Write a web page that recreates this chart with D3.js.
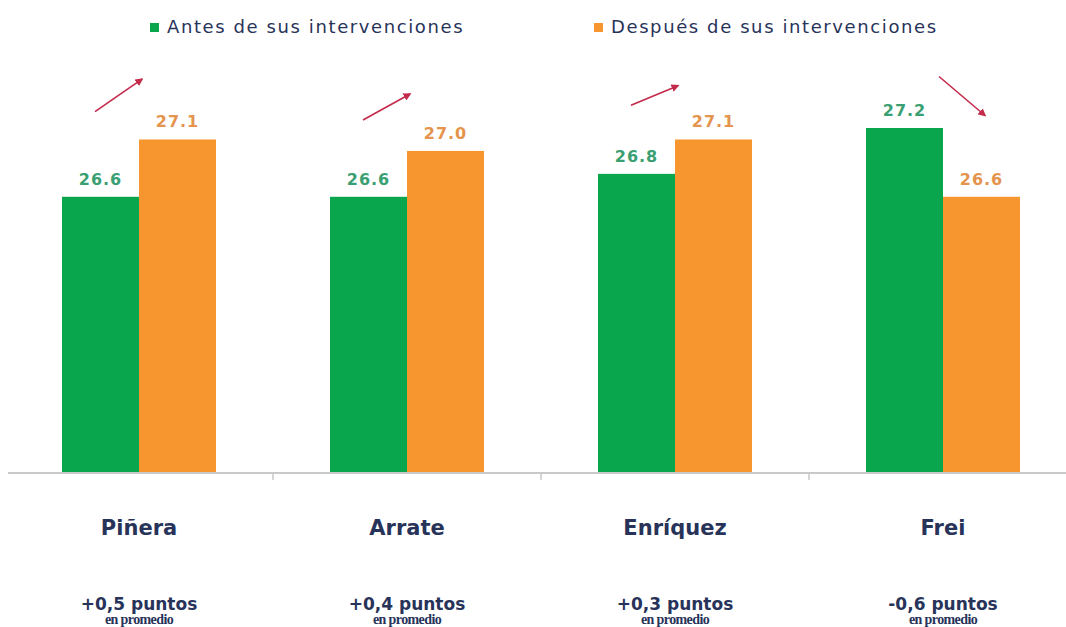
<!DOCTYPE html>
<html>
<head>
<meta charset="utf-8">
<script src="https://cdn.jsdelivr.net/npm/d3@7"></script>
<style>
  body { margin: 0; background: #fff; }
  svg { display: block; font-family: "DejaVu Sans", Verdana, sans-serif; }
</style>
</head>
<body>
<svg id="chart" width="1066" height="627"></svg>
<script>
var candidates = ['Piñera', 'Arrate', 'Enríquez', 'Frei'];
var seriesNames = ['Antes de sus intervenciones', 'Después de sus intervenciones'];
var antes = [26.6, 26.6, 26.8, 27.2];
var despues = [27.1, 27.0, 27.1, 26.6];
var diffLabels = ['+0,5 puntos', '+0,4 puntos', '+0,3 puntos', '-0,6 puntos'];

var colors = ['#0aa64e', '#f7962f'];
var labelColors = ['#3a9f72', '#e4944c'];
var navy = '#28335a';

var svg = d3.select('#chart');
var baseY = 472;

var x = d3.scaleBand().domain(candidates).range([5, 1077]).paddingInner(0).paddingOuter(0);
var xs = d3.scaleBand().domain([0, 1]).range([57, x.bandwidth() - 57]);
var y = d3.scaleLinear().domain([24.2, 27.2]).range([baseY, 128]);

var rows = candidates.map(function(c, i){
    return {name: c, vals: [antes[i], despues[i]], diff: diffLabels[i]};
});

// axis line with tick marks between categories
svg.append('line')
    .attr('x1', 8).attr('x2', 1066)
    .attr('y1', baseY + 1).attr('y2', baseY + 1)
    .style('stroke', '#c9c9c9').style('stroke-width', 2);

svg.selectAll('line.tick')
    .data(candidates.slice(1))
    .enter().append('line')
    .attr('class', 'tick')
    .attr('x1', function(d){ return x(d); }).attr('x2', function(d){ return x(d); })
    .attr('y1', baseY + 1).attr('y2', baseY + 8)
    .style('stroke', '#c9c9c9').style('stroke-width', 1.5);

var g = svg.selectAll('g.cat')
    .data(rows)
    .enter().append('g')
    .attr('class', 'cat')
    .attr('transform', function(d){ return 'translate(' + x(d.name) + ',0)'; });

g.selectAll('rect')
    .data(function(d){ return d.vals; })
    .enter().append('rect')
    .attr('x', function(v, i){ return xs(i); })
    .attr('y', function(v){ return y(v); })
    .attr('width', xs.bandwidth())
    .attr('height', function(v){ return baseY - y(v); })
    .style('fill', function(v, i){ return colors[i]; });

g.selectAll('text.val')
    .data(function(d){ return d.vals; })
    .enter().append('text')
    .attr('class', 'val')
    .attr('x', function(v, i){ return xs(i) + xs.bandwidth() / 2; })
    .attr('y', function(v){ return y(v) - 12; })
    .attr('text-anchor', 'middle')
    .style('font-size', '16px')
    .style('font-weight', 'bold')
    .style('letter-spacing', '1px')
    .style('fill', function(v, i){ return labelColors[i]; })
    .text(function(v){ return v.toFixed(1); });

// trend arrows
svg.append('defs').append('marker')
    .attr('id', 'head')
    .attr('viewBox', '0 0 10 10')
    .attr('refX', 8).attr('refY', 5)
    .attr('markerWidth', 5).attr('markerHeight', 5)
    .attr('orient', 'auto')
    .append('path').attr('d', 'M0,0 L10,5 L0,10 z').style('fill', '#c42a4a');

function up(d){ return d.vals[1] > d.vals[0]; }
function arrowMid(d){ return y(d3.max(d.vals)) - (up(d) ? 44 : 32); }

g.append('line')
    .attr('x1', function(d){ var c = xs.bandwidth() + 57; return up(d) ? c - 44 : c - 4; })
    .attr('x2', function(d){ var c = xs.bandwidth() + 57; return up(d) ? c + 3 : c + 42; })
    .attr('y1', function(d){ return arrowMid(d) + (d.vals[1] - d.vals[0]) * 65 / 2; })
    .attr('y2', function(d){ return arrowMid(d) - (d.vals[1] - d.vals[0]) * 65 / 2; })
    .style('stroke', '#c42a4a').style('stroke-width', 1.6)
    .attr('marker-end', 'url(#head)');

// category names and differences
g.append('text')
    .attr('x', x.bandwidth() / 2)
    .attr('y', 535)
    .attr('text-anchor', 'middle')
    .style('font-size', '21px')
    .style('font-weight', 'bold')
    .style('fill', navy)
    .text(function(d){ return d.name; });

g.append('text')
    .attr('x', x.bandwidth() / 2)
    .attr('y', 610)
    .attr('text-anchor', 'middle')
    .style('font-size', '17px')
    .style('font-weight', 'bold')
    .style('fill', navy)
    .text(function(d){ return d.diff; });

g.append('text')
    .attr('x', x.bandwidth() / 2)
    .attr('y', 624)
    .attr('text-anchor', 'middle')
    .style('font-family', '"Liberation Serif", serif')
    .style('font-size', '14px')
    .style('font-weight', 'bold')
    .style('letter-spacing', '-0.6px')
    .style('fill', navy)
    .text('en promedio');

// legend
var legendX = [150, 594];
var leg = svg.selectAll('g.legend')
    .data(seriesNames)
    .enter().append('g')
    .attr('class', 'legend')
    .attr('transform', function(d, i){ return 'translate(' + legendX[i] + ',27)'; });

leg.append('rect')
    .attr('x', 0).attr('y', -4).attr('width', 9).attr('height', 9)
    .style('fill', function(d, i){ return colors[i]; });

leg.append('text')
    .attr('x', 17).attr('y', 6)
    .style('font-size', '18px')
    .style('letter-spacing', '1.6px')
    .style('fill', navy)
    .text(function(d){ return d; });
</script>
</body>
</html>
